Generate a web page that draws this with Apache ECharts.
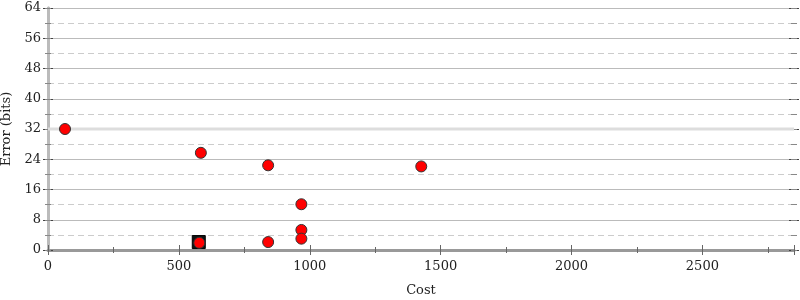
<!DOCTYPE html>
<html><head><meta charset="utf-8">
<script src="https://cdn.jsdelivr.net/npm/echarts@6/dist/echarts.min.js"></script>
<style>html,body{margin:0;padding:0;background:#fff}#c{width:800px;height:300px}</style>
</head><body><div id="c"></div>
<script>
const costs = [65, 584, 841, 1426, 968, 968, 968, 841, 578];
const errors = [32.0, 25.7, 22.4, 22.1, 12.1, 5.3, 3.0, 2.1, 1.9];
const bestCost = [576];
const bestError = [2.1];
const referenceError = 32;
const xMax = 2850, yMax = 64;
const xTitle = 'Cost', yTitle = 'Error (bits)';

const font = 'DejaVu Serif';
const chart = echarts.init(document.getElementById('c'), null, {renderer: 'canvas'});
const tickAxisX = (offset, len, interval, color) => ({
  type: 'value', position: 'bottom', min: 0, max: xMax, interval: interval, offset: offset,
  axisLine: {show: false}, axisLabel: {show: false}, splitLine: {show: false},
  axisTick: {show: true, length: len, lineStyle: {color: color, width: 1}}
});
const tickAxisY = (pos, offset, len, interval, color) => ({
  type: 'value', position: pos, min: 0, max: yMax, interval: interval, offset: offset,
  axisLine: {show: false}, axisLabel: {show: false}, splitLine: {show: false},
  axisTick: {show: true, length: len, lineStyle: {color: color, width: 1}}
});
chart.setOption({
  animation: false,
  grid: {left: 48, right: 6, top: 8, bottom: 50, outerBoundsMode: 'none', containLabel: false},
  xAxis: [
    {type: 'value', position: 'bottom', min: 0, max: xMax, interval: 500,
     name: xTitle, nameLocation: 'middle', nameGap: 34,
     nameTextStyle: {fontFamily: font, fontSize: 13, color: '#222'},
     axisLine: {show: true, lineStyle: {color: '#999', width: 2}},
     axisTick: {show: false},
     axisLabel: {fontFamily: font, fontSize: 13, color: '#222', margin: 10, showMaxLabel: false,
       formatter: v => (v % 500 === 0 ? String(v) : '')},
     splitLine: {show: false}},
    tickAxisX(-5, 10, 500, '#666'),
    tickAxisX(-3, 6, 250, '#666'),
    {type: 'value', position: 'top', min: 0, max: xMax,
     axisLine: {show: true, lineStyle: {color: '#999', width: 3}},
     axisTick: {show: false}, axisLabel: {show: false}, splitLine: {show: false}}
  ],
  yAxis: [
    {type: 'value', position: 'left', min: 0, max: yMax, interval: 8,
     name: yTitle, nameLocation: 'middle', nameGap: 32, nameRotate: 90,
     nameTextStyle: {fontFamily: font, fontSize: 13, color: '#222'},
     axisLine: {show: true, lineStyle: {color: '#bbb', width: 3}},
     axisTick: {show: false},
     minorTick: {show: false, splitNumber: 2},
     axisLabel: {fontFamily: font, fontSize: 13, color: '#222', margin: 7},
     splitLine: {show: true, lineStyle: {color: '#bbb', width: 1}},
     minorSplitLine: {show: true, lineStyle: {color: '#ccc', width: 1, type: [6, 4]}}},
    tickAxisY('left', -5, 10, 8, '#444'),
    tickAxisY('left', -3, 6, 4, '#888'),
    {type: 'value', position: 'right', min: 0, max: yMax, interval: 8,
     axisLine: {show: true, lineStyle: {color: '#bbb', width: 3}},
     axisTick: {show: false}, axisLabel: {show: false}, splitLine: {show: false}},
    tickAxisY('right', -5, 10, 8, '#444'),
    tickAxisY('right', -3, 6, 4, '#888')
  ],
  series: [
    {type: 'line', silent: true, symbol: 'none', z: 1,
     data: [[0, referenceError], [xMax, referenceError]],
     lineStyle: {color: '#ddd', width: 3}},
    {type: 'scatter', z: 3, symbol: 'rect', symbolSize: 13,
     data: bestCost.map((c, i) => [c, bestError[i]]),
     itemStyle: {color: '#111', borderColor: '#000', borderWidth: 1, opacity: 1}},
    {type: 'scatter', z: 4, symbol: 'circle', symbolSize: 11,
     data: costs.map((c, i) => [c, errors[i]]),
     itemStyle: {color: '#ff0000', borderColor: '#333', borderWidth: 1, opacity: 1}}
  ]
});
</script></body></html>
